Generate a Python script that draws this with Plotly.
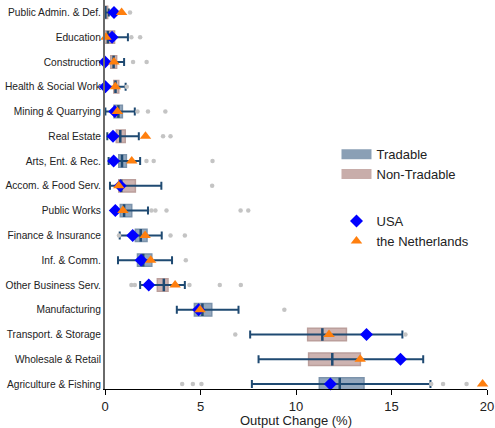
import plotly.graph_objects as go

categories = ["Public Admin. & Def.", "Education", "Construction", "Health & Social Work",
              "Mining & Quarrying", "Real Estate", "Arts, Ent. & Rec.", "Accom. & Food Serv.",
              "Public Works", "Finance & Insurance", "Inf. & Comm.", "Other Business Serv.",
              "Manufacturing", "Transport. & Storage", "Wholesale & Retail", "Agriculture & Fishing"]
tradable = [0, 0, 0, 0, 1, 0, 1, 0, 1, 1, 1, 0, 1, 0, 0, 1]
q1 =     [-0.08, -0.10, 0.30, 0.46, 0.47, 0.59, 0.72, 0.72, 0.80, 1.59, 1.70, 2.74, 4.68, 10.61, 10.66, 11.22]
median = [0.02, 0.15, 0.45, 0.55, 0.70, 0.80, 0.89, 0.85, 1.00, 1.87, 2.00, 3.08, 5.10, 11.38, 11.90, 12.29]
q3 =     [0.14, 0.50, 0.61, 0.72, 0.91, 1.06, 1.12, 1.59, 1.40, 2.20, 2.45, 3.30, 5.59, 12.64, 13.37, 13.56]
lower =  [-0.05, -0.10, -0.05, -0.05, 0.02, 0.12, 0.19, 0.26, 0.60, 0.77, 0.68, 1.84, 3.76, 7.60, 8.04, 7.69]
upper =  [0.20, 1.20, 1.00, 1.08, 1.56, 1.77, 1.84, 2.95, 2.25, 2.97, 3.51, 4.18, 6.99, 15.57, 16.66, 17.04]
outliers = [[1.31], [1.38, 1.84], [1.47, 2.18], [1.14], [1.70, 2.25, 3.16], [3.04, 3.43],
            [2.17, 2.55, 5.63], [5.61], [2.43, 2.64, 3.22, 7.10, 7.50], [0.73, 3.43, 4.18],
            [4.23], [1.38, 1.56, 4.42, 6.01, 7.11], [9.39], [6.82, 15.73], [],
            [4.04, 4.60, 5.05, 17.08, 17.70, 18.93]]
usa = [0.47, 0.37, 0.00, 0.02, 0.51, 0.42, 0.45, 0.80, 0.54, 1.45, 1.89, 2.29, 4.90, 13.69, 15.47, 11.80]
nld = [0.87, 0.05, 0.47, 0.54, 0.65, 2.12, 1.40, 0.72, 0.94, 2.10, 2.39, 3.67, 4.98, 11.73, 13.36, 19.77]
x_ticks = [0, 5, 10, 15, 20]

NAVY = "#1f4a72"
TR_FILL, TR_LINE = "rgba(128,152,177,0.85)", "#7c93ab"
NT_FILL, NT_LINE = "rgba(196,166,163,0.85)", "#bb9f9c"
FONT = "Liberation Sans, Arial, sans-serif"

fig = go.Figure()

# whiskers with caps
fig.add_trace(go.Scatter(
    x=median, y=categories, mode="markers", marker=dict(size=1, opacity=0),
    error_x=dict(type="data", symmetric=False,
                 array=[u - m for u, m in zip(upper, median)],
                 arrayminus=[m - l for m, l in zip(median, lower)],
                 color=NAVY, thickness=2, width=4),
    showlegend=False, hoverinfo="skip"))

# boxes
for flag, fill, line in [(1, TR_FILL, TR_LINE), (0, NT_FILL, NT_LINE)]:
    ys = [c for c, t in zip(categories, tradable) if t == flag]
    b = [a for a, t in zip(q1, tradable) if t == flag]
    w = [c - a for a, c, t in zip(q1, q3, tradable) if t == flag]
    fig.add_trace(go.Bar(y=ys, x=w, base=b, orientation="h", width=0.5,
                         marker=dict(color=fill, line=dict(color=line, width=1.5)),
                         showlegend=False))

# medians
fig.add_trace(go.Scatter(x=median, y=categories, mode="markers",
                         marker=dict(symbol="line-ns", size=9, line=dict(color=NAVY, width=2.5)),
                         showlegend=False))

# outliers
ox, oy = [], []
for c, vals in zip(categories, outliers):
    for v in vals:
        ox.append(v)
        oy.append(c)
fig.add_trace(go.Scatter(x=ox, y=oy, mode="markers", marker=dict(color="#c4c4c4", size=4.5),
                         showlegend=False, cliponaxis=False))

# legend proxies for box categories
fig.add_trace(go.Scatter(x=[None], y=[None], mode="lines", name="Tradable", legendgroup="a",
                         line=dict(color="#8a9fb5", width=10)))
fig.add_trace(go.Scatter(x=[None], y=[None], mode="lines", name="Non-Tradable", legendgroup="a",
                         line=dict(color="#c8adaa", width=10)))

fig.add_trace(go.Scatter(x=usa, y=categories, mode="markers", name="USA", legendgroup="b",
                         marker=dict(symbol="diamond", color="#0000ff", size=10), cliponaxis=False))
fig.add_trace(go.Scatter(x=nld, y=categories, mode="markers", name="the Netherlands", legendgroup="b",
                         marker=dict(symbol="triangle-up", color="#ff7f0e", size=10), cliponaxis=False))

fig.update_layout(
    width=495, height=428, barmode="overlay",
    margin=dict(l=105, r=8, t=0, b=39),
    paper_bgcolor="white", plot_bgcolor="white",
    font=dict(family=FONT, size=12, color="#222"),
    legend=dict(x=0.606, y=0.642, xanchor="left", yanchor="top", bgcolor="rgba(0,0,0,0)",
                font=dict(size=13), tracegroupgap=27, traceorder="grouped"),
    xaxis=dict(range=[0, 20], tickvals=x_ticks, ticks="outside", ticklen=5, tickcolor="black",
               showline=True, linecolor="black", linewidth=1, showgrid=False, zeroline=False,
               tickfont=dict(size=13), automargin=False,
               title=dict(text="Output Change (%)", font=dict(size=13))),
    yaxis=dict(type="category", categoryorder="array", categoryarray=categories,
               range=[15.2, -0.5], showline=True, linecolor="#6a6a6a", linewidth=2,
               showgrid=False, zeroline=False, ticks="", tickfont=dict(size=10.2),
               ticklabelstandoff=0, automargin=False),
)

fig.write_html("out.html", config={"displayModeBar": False},
               post_script="document.body.style.margin='0px';")
